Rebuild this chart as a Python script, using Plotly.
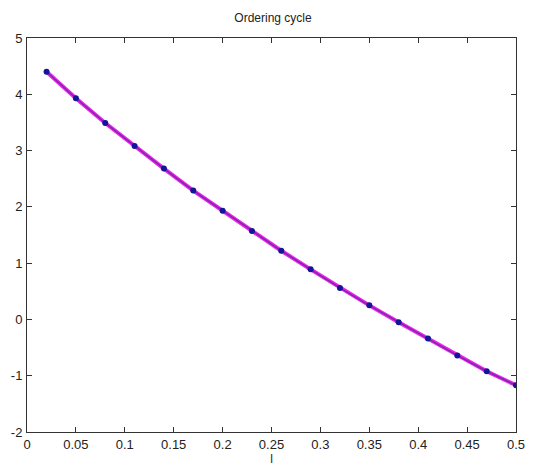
import plotly.graph_objects as go

l_vals = [0.02, 0.05, 0.08, 0.11, 0.14, 0.17, 0.20, 0.23, 0.26, 0.29, 0.32, 0.35, 0.38, 0.41, 0.44, 0.47, 0.50]
cycle_vals = [4.40, 3.93, 3.49, 3.08, 2.68, 2.29, 1.93, 1.57, 1.22, 0.89, 0.56, 0.25, -0.05, -0.34, -0.64, -0.92, -1.17]
x_ticks = [0, 0.05, 0.1, 0.15, 0.2, 0.25, 0.3, 0.35, 0.4, 0.45, 0.5]
x_tick_text = ["0", "0.05", "0.1", "0.15", "0.2", "0.25", "0.3", "0.35", "0.4", "0.45", "0.5"]
y_ticks = [-2, -1, 0, 1, 2, 3, 4, 5]
y_tick_text = ["-2", "-1", "0", "1", "2", "3", "4", "5"]

font_family = "Liberation Sans, Arial, sans-serif"

fig = go.Figure()
fig.add_trace(go.Scatter(x=l_vals, y=cycle_vals, mode="lines",
                         line=dict(color="#ee22ee", width=4), showlegend=False, hoverinfo="skip"))
fig.add_trace(go.Scatter(x=l_vals, y=cycle_vals, mode="lines+markers",
                         line=dict(color="#7a2aa8", width=1.5),
                         marker=dict(color="#14149a", size=6, symbol="circle"),
                         showlegend=False))

axis_common = dict(showgrid=False, zeroline=False, showline=True, linecolor="#333333", linewidth=1,
                   mirror="ticks", ticks="inside", ticklen=5, tickcolor="#333333", automargin=False,
                   tickfont=dict(family=font_family, size=13, color="#222222"))

fig.update_layout(
    width=546, height=472,
    margin=dict(l=27, r=30, t=38, b=40),
    paper_bgcolor="white", plot_bgcolor="white",
    title=dict(text="Ordering cycle", x=0.5, xanchor="center", y=0.962, yanchor="middle",
               font=dict(family=font_family, size=12, color="#222222")),
    xaxis=dict(range=[0, 0.5], tickvals=x_ticks, ticktext=x_tick_text,
               title=dict(text="l", font=dict(family=font_family, size=12, color="#222222"), standoff=0),
               **axis_common),
    yaxis=dict(range=[-2, 5], tickvals=y_ticks, ticktext=y_tick_text, ticklabelstandoff=1,
               **axis_common),
)

fig.write_html("out.html", config={"displayModeBar": False},
               post_script="document.body.style.margin='0px';document.body.style.overflow='hidden';")
